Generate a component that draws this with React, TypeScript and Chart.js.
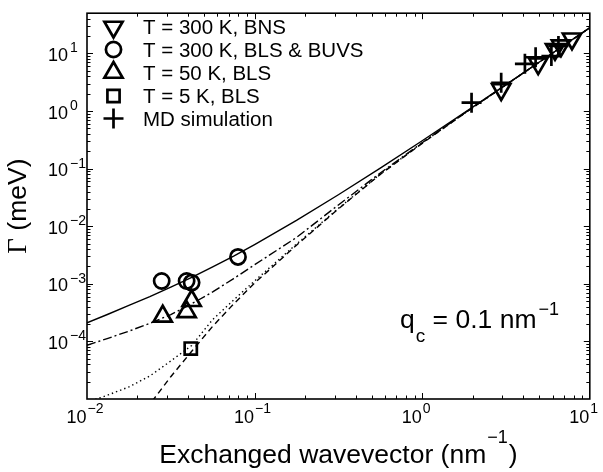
import React, { useEffect, useRef } from 'react';
import { Chart, registerables } from 'chart.js';

Chart.register(...registerables);

// ---- data ----
const curveQ = [0.01, 0.01334, 0.01778, 0.02371, 0.03162, 0.04217, 0.05623, 0.07499, 0.1, 0.1778, 0.3162, 0.5623, 1, 1.778, 3.162, 5.623, 10];
const curve300K = [2.11e-4, 2.96e-4, 4.21e-4, 6.01e-4, 8.79e-4, 1.294e-3, 1.97e-3, 3.03e-3, 4.81e-3, 1.265e-2, 3.52e-2, 0.102, 0.305, 0.931, 2.88, 8.95, 28.0];
const curve50K = [8.57e-5, 1.132e-4, 1.507e-4, 2.065e-4, 2.92e-4, 4.5e-4, 7.24e-4, 1.233e-3, 2.14e-3, 6.38e-3, 2.34e-2, 8.41e-2, 0.282, 0.912, 2.86, 8.93, 27.9];
const curve5K = [8.71e-6, 1.175e-5, 1.62e-5, 2.51e-5, 4.57e-5, 8.51e-5, 2.40e-4, 5.25e-4, 1.122e-3, 4.9e-3, 2.04e-2, 8.04e-2, 0.279, 0.902, 2.85, 8.91, 27.9];
const curve0K = [2.63e-7, 8.3e-7, 2.65e-6, 8.1e-6, 2.44e-5, 6.76e-5, 1.83e-4, 4.47e-4, 1.03e-3, 4.68e-3, 2.0e-2, 7.94e-2, 0.275, 0.902, 2.85, 8.91, 27.9];

const bnsQ = [2.96, 4.92, 6.2, 6.73, 7.83];
const bnsG = [2.37, 6.66, 11.8, 13.7, 18.0];
const blsQ = [0.0279, 0.0393, 0.0421, 0.0796];
const blsG = [1.12e-3, 1.12e-3, 1.05e-3, 2.93e-3];
const bls50Q = [0.0283, 0.0393, 0.0421];
const bls50G = [2.73e-4, 3.26e-4, 5.08e-4];
const bls5Q = [0.0416];
const bls5G = [7.5e-5];
const mdQ = [1.97, 2.96, 4.1, 4.75, 5.9, 6.5];
const mdG = [1.4, 3.1, 6.6, 8.6, 9.0, 13.5];

const legendLabels = ['T = 300 K, BNS', 'T = 300 K, BLS & BUVS', 'T = 50 K, BLS', 'T = 5 K, BLS', 'MD simulation'];

const xDecades = [-2, -1, 0, 1];
const yDecades = [-4, -3, -2, -1, 0, 1];

const X_MIN = 0.01;
const X_MAX = 10;
const Y_MIN = 1e-5;
const Y_MAX = 50;

const SANS = "'Liberation Sans', Arial, Helvetica, sans-serif";
const SERIF = "'Liberation Serif', 'Times New Roman', serif";

const MARK = { tri: 10.5, circ: 7.6, rect: 8.6, cross: 10, lw: 2.7 };

function pts(q: number[], g: number[]) {
  return q.map((v, i) => ({ x: v, y: g[i] }));
}

function drawMarker(ctx: CanvasRenderingContext2D, style: string, x: number, y: number) {
  ctx.save();
  ctx.strokeStyle = '#000';
  ctx.lineWidth = MARK.lw;
  ctx.lineJoin = 'miter';
  ctx.beginPath();
  if (style === 'up' || style === 'down') {
    const r = MARK.tri;
    let rad = style === 'down' ? Math.PI : 0;
    for (let k = 0; k < 3; k++) {
      const px = x + Math.sin(rad) * r;
      const py = y - Math.cos(rad) * r;
      if (k === 0) ctx.moveTo(px, py);
      else ctx.lineTo(px, py);
      rad += (2 * Math.PI) / 3;
    }
    ctx.closePath();
  } else if (style === 'circle') {
    ctx.arc(x, y, MARK.circ, 0, Math.PI * 2);
  } else if (style === 'rect') {
    const s = Math.SQRT1_2 * MARK.rect;
    ctx.rect(x - s, y - s, 2 * s, 2 * s);
  } else if (style === 'cross') {
    const r = MARK.cross;
    ctx.moveTo(x - r, y);
    ctx.lineTo(x + r, y);
    ctx.moveTo(x, y - r);
    ctx.lineTo(x, y + r);
  }
  ctx.stroke();
  ctx.restore();
}

const decorPlugin = {
  id: 'decor',
  afterDraw(chart: any) {
    const ctx: CanvasRenderingContext2D = chart.ctx;
    const { left, right, top, bottom } = chart.chartArea;
    const xs = chart.scales.x;
    const ys = chart.scales.y;
    ctx.save();
    ctx.strokeStyle = '#000';
    ctx.fillStyle = '#000';

    // ticks (inward, all four sides)
    ctx.lineWidth = 1;
    ctx.beginPath();
    for (let d = -2; d <= 0; d++) {
      for (let k = 1; k <= 9; k++) {
        const v = k * Math.pow(10, d);
        if (v <= X_MIN || v >= X_MAX) continue;
        const px = Math.round(xs.getPixelForValue(v)) + 0.5;
        const len = k === 1 ? 6 : 3.5;
        ctx.moveTo(px, bottom);
        ctx.lineTo(px, bottom - len);
        ctx.moveTo(px, top);
        ctx.lineTo(px, top + len);
      }
    }
    for (let d = -5; d <= 1; d++) {
      for (let k = 1; k <= 9; k++) {
        const v = k * Math.pow(10, d);
        if (v <= Y_MIN || v >= Y_MAX) continue;
        const py = Math.round(ys.getPixelForValue(v)) + 0.5;
        const len = k === 1 ? 6 : 3.5;
        ctx.moveTo(left, py);
        ctx.lineTo(left + len, py);
        ctx.moveTo(right, py);
        ctx.lineTo(right - len, py);
      }
    }
    ctx.stroke();

    // box
    ctx.lineWidth = 1.6;
    ctx.strokeRect(left, top, right - left, bottom - top);

    // x tick labels
    for (const d of xDecades) {
      const px = xs.getPixelForValue(Math.pow(10, d));
      ctx.font = `18px ${SANS}`;
      ctx.textAlign = 'right';
      ctx.textBaseline = 'alphabetic';
      ctx.fillText('10', px - 0.5, 423);
      ctx.font = `14px ${SANS}`;
      ctx.textAlign = 'left';
      ctx.fillText(d < 0 ? '\u2212' + -d : String(d), px + 0.5, 413);
    }
    // y tick labels
    for (const d of yDecades) {
      const py = ys.getPixelForValue(Math.pow(10, d));
      ctx.font = `18px ${SANS}`;
      ctx.textAlign = 'right';
      ctx.fillText('10', 68, py + 7.5);
      ctx.font = `14px ${SANS}`;
      ctx.textAlign = 'left';
      ctx.fillText(d < 0 ? '\u2212' + -d : String(d), 70, py - 1);
    }

    // x title
    {
      const main = 'Exchanged wavevector (nm';
      ctx.font = `26.5px ${SANS}`;
      const w1 = ctx.measureText(main).width;
      ctx.font = `18px ${SANS}`;
      const w2 = ctx.measureText('\u22121').width;
      ctx.font = `26.5px ${SANS}`;
      const w3 = ctx.measureText(')').width;
      const total = w1 + w2 + w3 + 2;
      let x0 = (left + right) / 2 - total / 2;
      ctx.textAlign = 'left';
      ctx.fillText(main, x0, 463);
      x0 += w1 + 1;
      ctx.font = `18px ${SANS}`;
      ctx.fillText('\u22121', x0, 443);
      x0 += w2 + 1;
      ctx.font = `26.5px ${SANS}`;
      ctx.fillText(')', x0, 463);
    }

    // y title
    {
      ctx.save();
      ctx.translate(26, (top + bottom) / 2);
      ctx.rotate(-Math.PI / 2);
      ctx.font = `27px ${SERIF}`;
      const wG = ctx.measureText('\u0393').width;
      ctx.font = `26.5px ${SANS}`;
      const wR = ctx.measureText(' (meV)').width;
      const total = wG + wR;
      ctx.textAlign = 'left';
      ctx.font = `27px ${SERIF}`;
      ctx.fillText('\u0393', -total / 2, 0);
      ctx.font = `26.5px ${SANS}`;
      ctx.fillText(' (meV)', -total / 2 + wG, 0);
      ctx.restore();
    }

    // annotation q_c = 0.1 nm^-1
    {
      let x0 = 400;
      ctx.textAlign = 'left';
      ctx.font = `26.5px ${SANS}`;
      ctx.fillText('q', x0, 327.5);
      x0 += ctx.measureText('q').width + 1;
      ctx.font = `19px ${SANS}`;
      ctx.fillText('c', x0, 341.5);
      x0 += ctx.measureText('c').width;
      ctx.font = `26.5px ${SANS}`;
      ctx.fillText(' = 0.1 nm', x0, 327.5);
      x0 += ctx.measureText(' = 0.1 nm').width + 2;
      ctx.font = `18px ${SANS}`;
      ctx.fillText('\u22121', x0, 315);
    }

    // legend
    const styles = ['down', 'circle', 'up', 'rect', 'cross'];
    const rowY = [27, 49.5, 72.5, 96, 118.5];
    for (let i = 0; i < legendLabels.length; i++) {
      drawMarker(ctx, styles[i], 113.5, rowY[i]);
      ctx.font = `20.5px ${SANS}`;
      ctx.textAlign = 'left';
      ctx.fillStyle = '#000';
      ctx.fillText(legendLabels[i], 143, rowY[i] + 7);
    }
    ctx.restore();
  },
};

export default function App() {
  const ref = useRef<HTMLCanvasElement | null>(null);
  useEffect(() => {
    if (!ref.current) return;
    const line = (data: number[], dash: number[]) => ({
      data: pts(curveQ, data),
      showLine: true,
      borderColor: '#000',
      backgroundColor: '#000',
      borderWidth: 1.4,
      borderDash: dash,
      pointRadius: 0,
      tension: 0,
      order: 2,
    });
    const marks = (q: number[], g: number[], style: string, radius: number, rotation = 0) => ({
      data: pts(q, g),
      showLine: false,
      pointStyle: style,
      pointRadius: radius,
      pointRotation: rotation,
      pointBorderColor: '#000',
      pointBackgroundColor: 'rgba(0,0,0,0)',
      pointBorderWidth: MARK.lw,
      borderColor: '#000',
      backgroundColor: 'rgba(0,0,0,0)',
      order: 1,
    });
    const chart = new Chart(ref.current, {
      type: 'scatter',
      data: {
        datasets: [
          line(curve300K, []),
          line(curve50K, [9, 3, 2, 3]),
          line(curve5K, [1.4, 3]),
          line(curve0K, [6, 4]),
          marks(bnsQ, bnsG, 'triangle', MARK.tri, 180),
          marks(blsQ, blsG, 'circle', MARK.circ),
          marks(bls50Q, bls50G, 'triangle', MARK.tri),
          marks(bls5Q, bls5G, 'rect', MARK.rect),
          marks(mdQ, mdG, 'cross', MARK.cross),
        ] as any,
      },
      options: {
        animation: false,
        responsive: false,
        maintainAspectRatio: false,
        events: [],
        layout: { padding: { left: 87, right: 11, top: 1, bottom: 73 } },
        scales: {
          x: { type: 'logarithmic', min: X_MIN, max: X_MAX, display: false },
          y: { type: 'logarithmic', min: Y_MIN, max: Y_MAX, display: false },
        },
        plugins: { legend: { display: false }, tooltip: { enabled: false } },
      },
      plugins: [decorPlugin],
    } as any);
    return () => chart.destroy();
  }, []);
  return (
    <div style={{ position: 'fixed', left: 0, top: 0, width: 603, height: 472, background: '#fff' }}>
      <canvas ref={ref} width={603} height={472} style={{ display: 'block' }} />
    </div>
  );
}
